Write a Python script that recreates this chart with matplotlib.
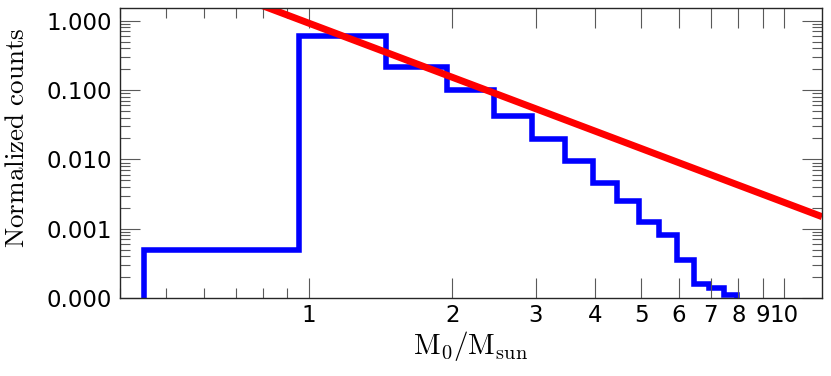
import numpy as np
import matplotlib.pyplot as plt
from matplotlib.ticker import FixedLocator, FixedFormatter, NullFormatter, FormatStrFormatter

plt.rcParams['mathtext.fontset'] = 'cm'

# histogram of initial masses (normalized counts), bin width 0.5
edges = [0.45, 0.95, 1.45, 1.95, 2.45, 2.95, 3.45, 3.95, 4.45, 4.95,
         5.45, 5.95, 6.45, 6.95, 7.45, 7.95]
counts = [5.0e-4, 0.60, 0.213, 0.100, 0.0426, 0.0196, 0.00945, 0.00451,
          0.00253, 0.00123, 8.2e-4, 3.5e-4, 1.57e-4, 1.38e-4, 1.1e-4]

# power-law reference line (end points)
line_x = [0.4, 12.0]
line_y = [9.8, 0.00149]

xticks = [1, 2, 3, 4, 5, 6, 7, 8, 9, 10]
xticklabels = ['1', '2', '3', '4', '5', '6', '7', '8', '9', '10']
yticks = [1e-4, 1e-3, 1e-2, 1e-1, 1.0]

fig = plt.figure(figsize=(8.31, 3.76), dpi=100)
ax = fig.add_axes([0.1444, 0.2074, 0.8448, 0.77])

ax.stairs(counts, edges, baseline=1e-7, color='#0000ff', lw=4, joinstyle='miter')
ax.plot(line_x, line_y, color='#ff0000', lw=5, solid_capstyle='butt')

ax.set_xscale('log')
ax.set_yscale('log')
ax.set_xlim(0.4, 12.0)
ax.set_ylim(1e-4, 1.5)

ax.xaxis.set_major_locator(FixedLocator(xticks))
ax.xaxis.set_major_formatter(FixedFormatter(xticklabels))
ax.xaxis.set_minor_formatter(NullFormatter())
ax.yaxis.set_major_locator(FixedLocator(yticks))
ax.yaxis.set_major_formatter(FormatStrFormatter('%.3f'))
ax.yaxis.set_minor_formatter(NullFormatter())

ax.tick_params(which='both', direction='in', top=True, right=True,
               color='0.35', width=0.8, labelsize=16.5)
ax.tick_params(which='major', length=14.4)
ax.tick_params(which='minor', length=7.2)
ax.tick_params(axis='x', which='major', pad=4.5)
ax.tick_params(axis='y', which='major', pad=6)

for s in ax.spines.values():
    s.set_linewidth(1.0)
    s.set_color('0.15')

ax.set_xlabel(r'$\mathrm{M_0/M_{sun}}$', fontsize=21, labelpad=1)
ax.set_ylabel(r'$\mathrm{Normalized\ counts}$', fontsize=19.5)
ax.yaxis.set_label_coords(-0.128, 0.554)

fig.savefig('out.png', dpi=100)
